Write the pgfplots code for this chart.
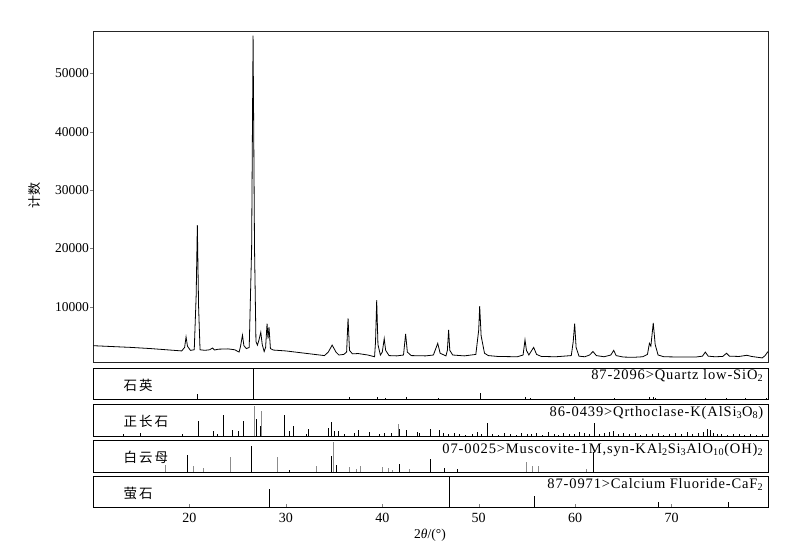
\documentclass[border=0pt]{standalone}
\usepackage{fontspec}
\setmainfont{Liberation Serif}
\newfontfamily\cjk{Noto Sans CJK SC}
\newfontfamily\cardfont[LetterSpace=6]{Liberation Serif}
\usepackage{pgfplots}
\pgfplotsset{compat=1.18}

% one strip of reference sticks under the pattern
\pgfplotsset{
  panel/.style={
    scale only axis, width=675pt, anchor=south west,
    xmin=10, xmax=80, ymin=0, ymax=100,
    xtick=\empty, ytick=\empty,
    axis line style={black, line width=0.8pt},
    clip=true,
  },
}
\tikzset{
  stick/.style={ycomb, no marks, black, line width=0.8pt},
  gstick/.style={ycomb, no marks, black!45, line width=0.8pt},
  lbl/.style={anchor=west, font=\cjk\fontsize{13.5}{15}\selectfont},
  card/.style={anchor=base east, inner sep=0pt, font=\cardfont\fontsize{14.5}{16}\selectfont},
}

\begin{document}
\begin{tikzpicture}
\useasboundingbox (0,0) rectangle (791pt,541pt);

% measured pattern
\begin{axis}[
    at={(93pt,179pt)}, anchor=south west,
    scale only axis, width=675pt, height=331pt,
    xmin=10, xmax=80, ymin=500, ymax=57300,
    xtick=\empty,
    ytick={10000,20000,30000,40000,50000},
    ytick pos=left, tick align=outside, major tick length=3pt,
    scaled y ticks=false,
    yticklabel style={
      /pgf/number format/1000 sep={},
      /pgf/number format/assume math mode=true,
      font=\fontsize{13.5}{15}\selectfont, inner sep=1pt},
    axis line style={black!85, line width=0.8pt},
  ]
  \addplot[black, line width=0.8pt] coordinates {
    (10,3300) (12,3150) (14,3000) (16,2800) (18,2550) (19.2,2400)
    (19.5,3000) (19.65,4800) (19.8,3200) (20.1,2500) (20.5,2600)
    (20.7,12000) (20.82,24000) (20.95,10000) (21.1,2600) (21.6,2500)
    (22.1,2600) (22.4,2900) (22.6,2550) (23,2700) (24,2750) (24.7,2600)
    (25.15,2200) (25.3,3200) (25.5,5100) (25.65,3300) (25.9,2800)
    (26.2,3000) (26.45,20000) (26.6,56500) (26.75,20000) (26.9,4000)
    (27.05,3400) (27.2,4200) (27.4,5600) (27.55,3500) (27.75,2300)
    (27.9,3000) (28.05,7100) (28.15,4500) (28.25,6500) (28.4,2800)
    (28.7,2550) (30,2400) (31,2200) (32,2000) (33,1800) (34,1600)
    (34.4,2200) (34.8,3400) (35.2,2200) (35.5,1700) (36,1800)
    (36.3,2200) (36.45,8000) (36.6,2500) (36.9,1900) (37.5,1950)
    (38.5,1700) (39.2,1400) (39.3,4000) (39.42,11100) (39.55,3500)
    (39.8,1700) (40.0,2200) (40.2,4500) (40.35,2500) (40.7,1600)
    (41.5,1550) (42.2,1700) (42.42,5300) (42.6,2200) (43,1600)
    (44.5,1550) (45.3,1700) (45.75,3700) (46.0,2000) (46.6,1550)
    (46.75,2500) (46.88,6000) (47.0,2500) (47.3,1700) (48.5,1550)
    (49.7,1800) (50.0,6000) (50.1,10100) (50.25,5000) (50.6,2000)
    (51,1600) (52,1450) (54,1400) (54.6,1700) (54.8,4300) (54.95,2500)
    (55.2,1700) (55.5,2500) (55.7,3000) (56.0,1800) (56.5,1450)
    (58,1400) (59.6,1600) (59.8,4000) (59.95,7100) (60.1,3000)
    (60.4,1500) (61,1400) (61.5,1700) (61.85,2300) (62.2,1600)
    (63,1400) (63.7,1700) (64.0,2500) (64.25,1600) (65,1350) (66,1300)
    (67,1400) (67.5,1800) (67.7,3700) (67.85,3200) (68.1,7200)
    (68.3,3500) (68.6,1700) (69.2,1400) (71,1350) (72.5,1350)
    (73.2,1500) (73.5,2200) (73.8,1500) (74.5,1400) (75.3,1450)
    (75.7,2000) (76.0,1500) (77,1450) (77.8,1650) (78.3,1450)
    (79.4,1200) (79.7,1600) (80,2300)
  };
\end{axis}

% quartz
\begin{axis}[panel, at={(93pt,142pt)}, height=31pt]
  \addplot[stick] coordinates {
    (20.86,17) (26.64,100) (36.54,7) (39.47,7) (40.29,4) (42.45,6)
    (45.79,4) (50.14,20) (54.87,5) (55.33,3) (59.96,8) (64.04,3)
    (67.74,5) (68.14,6) (68.32,4) (73.47,3) (75.66,3) (77.67,2) (79.88,3)
  };
  \node[lbl] at (rel axis cs:0.04,0.45) {石\hspace{2pt}英};
  \node[card] at (rel axis cs:0.993,0.62) {87-2096>Quartz low-SiO\textsubscript{2}};
\end{axis}

% orthoclase
\begin{axis}[panel, at={(93pt,105pt)}, height=32pt]
  \addplot[stick] coordinates {
    (13.2,6) (14.9,10) (19.3,5) (20.9,47) (22.5,16) (22.9,6) (23.5,65)
    (24.5,19) (25.06,15) (25.6,47) (26.9,53) (27.4,31) (29.8,65)
    (30.4,16) (30.8,31) (32.1,6) (32.3,22) (34.4,26) (34.7,44)
    (35.06,16) (35.4,16) (36.06,6) (37.1,10) (37.55,19) (38.7,14)
    (39.7,6) (40.2,8) (40.9,10) (41.8,22) (42.5,19) (43.6,14) (43.9,10)
    (45.0,22) (45.9,19) (46.3,8) (46.9,5) (47.5,10) (48.0,6) (48.6,4)
    (49.3,7) (49.9,12) (50.3,5) (50.85,42) (51.4,6) (52.0,4) (52.7,8)
    (53.3,5) (53.9,4) (54.4,10) (55.0,7) (55.5,5) (56.0,9) (56.6,4)
    (57.2,12) (57.8,6) (58.3,4) (58.8,9) (59.4,6) (59.9,5) (60.4,14)
    (61.0,8) (61.5,5) (61.95,42) (62.5,6) (63.0,9) (63.5,12) (64.0,15)
    (64.5,6) (65.0,8) (65.6,5) (66.2,9) (66.8,4) (67.4,7) (68.0,5)
    (68.6,8) (69.2,4) (69.8,6) (70.4,10) (71.0,5) (71.6,12) (72.2,6)
    (72.8,9) (73.3,14) (73.7,22) (74.0,18) (74.3,10) (74.7,6) (75.2,5)
    (75.8,4) (76.4,6) (77.0,5) (77.6,4) (78.2,5) (78.8,4) (79.4,5)
  };
  \addplot[gstick] coordinates {(26.7,94) (27.5,79) (41.7,38)};
  \node[lbl] at (rel axis cs:0.04,0.45) {正\hspace{2pt}长\hspace{2pt}石};
  \node[card] at (rel axis cs:0.993,0.6) {86-0439>Qrthoclase-K(AlSi\textsubscript{3}O\textsubscript{8})};
\end{axis}

% muscovite
\begin{axis}[panel, at={(93pt,69pt)}, height=32pt]
  \addplot[stick] coordinates {
    (19.8,54) (26.4,80) (34.7,51) (35.2,21) (41.8,26) (45.0,42) (61.9,62)
    (30.4,7) (46.4,14) (47.8,8)
  };
  \addplot[gstick] coordinates {
    (17.5,21) (20.4,18) (21.5,14) (24.2,46) (29.1,46) (33.2,18) (34.9,94)
    (36.6,16) (37.3,10) (37.7,18) (40.0,15) (40.6,11) (41.1,7) (42.8,8)
    (54.9,30) (55.55,20) (56.2,20) (61.2,9)
  };
  \node[lbl] at (rel axis cs:0.04,0.45) {白\hspace{2pt}云\hspace{2pt}母};
  \node[card] at (rel axis cs:0.993,0.58) {07-0025>Muscovite-1M,syn-KAl\textsubscript{2}Si\textsubscript{3}AlO\textsubscript{10}(OH)\textsubscript{2}};
\end{axis}

% fluorite
\begin{axis}[panel, at={(93pt,34pt)}, height=31pt,
    xtick={20,30,40,50,60,70}, xtick pos=left,
    tick align=inside, major tick length=3pt,
    xticklabel style={
      /pgf/number format/assume math mode=true,
      font=\fontsize{14}{15}\selectfont, inner sep=2pt, yshift=-4pt},
  ]
  \addplot[stick] coordinates {
    (28.27,58) (47.01,100) (55.76,36) (68.68,17) (75.86,17)
  };
  \node[lbl] at (rel axis cs:0.04,0.45) {萤\hspace{2pt}石};
  \node[card] at (rel axis cs:0.993,0.6) {87-0971>Calcium Fluoride-CaF\textsubscript{2}};
\end{axis}

\node[rotate=90, font=\cjk\fontsize{13}{15}\selectfont] at (35pt,345pt) {计数};
\node[anchor=base, font=\fontsize{13.5}{15}\selectfont] at (430pt,3pt) {2\textit{θ}/(°)};
\end{tikzpicture}
\end{document}
